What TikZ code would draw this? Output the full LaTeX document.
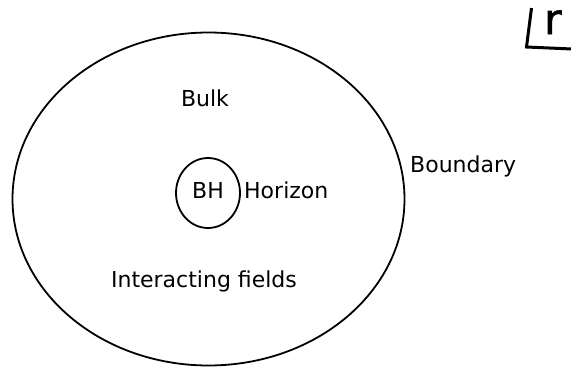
\documentclass[tikz,border=0pt]{standalone}
\usepackage{fontspec}
\setmainfont{DejaVu Sans}
\newfontfamily\heavyr[FakeBold=1.6]{DejaVu Sans}
\begin{document}
\begin{tikzpicture}[x=1pt,y=-1pt,
  lbl/.style={font=\fontsize{22}{25}\selectfont, inner sep=0pt},
  rim/.style={draw=black, line width=1.8pt}]
\useasboundingbox (0,0) rectangle (571,367);
% outer boundary of the spacetime
\draw[rim] (208.5,199) ellipse [x radius=196, y radius=166.5];
% black hole horizon
\draw[rim] (208,193) ellipse [x radius=32, y radius=35];
\node[lbl] (bulk) at (205,98) {Bulk};
\node[lbl] (bh) at (208,190) {BH};
\node[lbl, anchor=west] (hor) at (244,190) {Horizon};
\node[lbl, anchor=west] (bdy) at (410,166) {Boundary};
\node[lbl] (fields) at (204,281) {Interacting fields};
% radial coordinate marker
\draw[line width=3pt] (531.5,8) -- (526.5,47) -- (572,49);
\node[font=\heavyr\fontsize{42}{46}\selectfont, inner sep=0pt, anchor=base west] (r) at (544,34) {r};
\end{tikzpicture}
\end{document}
